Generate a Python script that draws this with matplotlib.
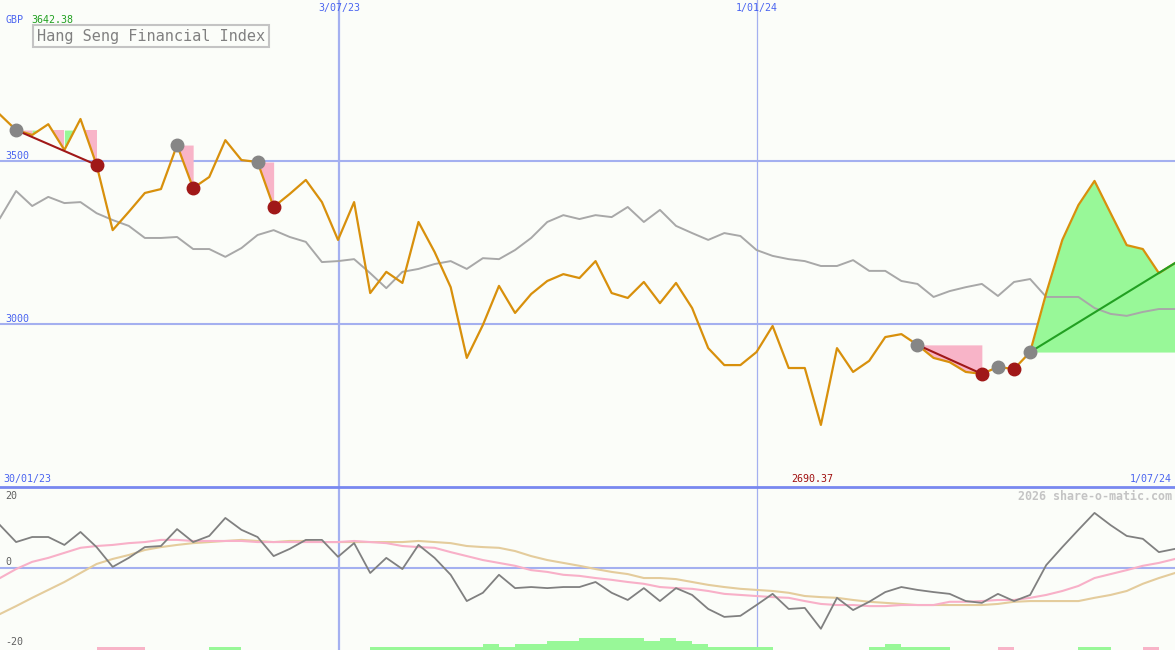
import matplotlib
matplotlib.use("Agg")
import matplotlib.pyplot as plt
import numpy as np

# weekly closes, 30/01/23 .. 1/07/24
price = [3642.38, 3595, 3580, 3613, 3534, 3629, 3488, 3288, 3344, 3402,
         3414, 3549, 3417, 3451, 3564, 3503, 3497, 3359, 3399, 3442,
         3374, 3258, 3374, 3095, 3160, 3126, 3313, 3221, 3113, 2896,
         2997, 3117, 3034, 3092, 3132, 3153, 3141, 3193, 3095, 3080,
         3129, 3064, 3126, 3049, 2926, 2874, 2874, 2914, 2994, 2865,
         2865, 2690.37, 2926, 2853, 2887, 2960, 2969, 2936, 2896, 2883,
         2853, 2847, 2868, 2862, 2914, 3095, 3258, 3365, 3439, 3340,
         3242, 3230, 3156, 3187]

# comparison index (rebased)
compare = [3325, 3408, 3362, 3390, 3371, 3374, 3340, 3319, 3301, 3264,
           3264, 3267, 3230, 3230, 3206, 3233, 3273, 3288, 3267, 3252,
           3190, 3193, 3199, 3156, 3110, 3160, 3169, 3184, 3193, 3169,
           3202, 3199, 3227, 3264, 3313, 3334, 3322, 3334, 3328, 3359,
           3313, 3350, 3301, 3279, 3258, 3279, 3270, 3227, 3209, 3199,
           3193, 3178, 3178, 3196, 3163, 3163, 3132, 3123, 3083, 3101,
           3113, 3123, 3086, 3129, 3138, 3083, 3083, 3083, 3049, 3031,
           3025, 3037, 3046, 3046]

# lower panel
osc = [11.9, 7.2, 8.6, 8.6, 6.4, 10.0, 5.8, 0.3, 2.8, 5.8,
       6.1, 10.8, 7.2, 8.9, 13.9, 10.6, 8.6, 3.3, 5.3, 7.8,
       7.8, 3.1, 6.9, -1.4, 2.8, -0.3, 6.4, 2.8, -1.9, -9.2,
       -6.9, -1.9, -5.6, -5.3, -5.6, -5.3, -5.3, -3.9, -6.9, -8.9,
       -5.6, -9.2, -5.6, -7.5, -11.4, -13.6, -13.3, -10.3, -7.2, -11.4,
       -11.1, -16.9, -8.3, -11.7, -9.4, -6.7, -5.3, -6.1, -6.7, -7.2,
       -9.2, -9.7, -7.2, -9.2, -7.5, 0.8, 5.8, 10.6, 15.3, 11.9,
       8.9, 8.1, 4.4, 5.3]
osc_fast = [-2.8, -0.3, 1.7, 2.8, 4.2, 5.6, 6.1, 6.4, 6.9, 7.2,
            7.8, 7.8, 7.5, 7.5, 7.5, 7.5, 7.2, 7.2, 7.2, 7.2,
            7.2, 7.2, 7.5, 7.2, 6.9, 6.1, 5.8, 5.6, 4.4, 3.3,
            2.2, 1.4, 0.6, -0.6, -1.1, -1.9, -2.2, -2.8, -3.3, -3.9,
            -4.4, -5.3, -5.6, -5.8, -6.4, -7.2, -7.5, -7.8, -8.1, -8.3,
            -9.2, -10.0, -10.3, -10.3, -10.6, -10.6, -10.3, -10.3, -10.3, -9.4,
            -9.4, -9.2, -8.9, -8.9, -8.3, -7.5, -6.4, -5.0, -2.8, -1.7,
            -0.6, 0.6, 1.4, 2.5]
osc_slow = [-12.8, -10.6, -8.3, -6.1, -3.9, -1.4, 1.1, 2.5, 3.6, 5.0,
            5.8, 6.4, 6.9, 7.2, 7.5, 7.8, 7.5, 7.2, 7.5, 7.5,
            7.2, 7.2, 7.2, 7.2, 7.2, 7.2, 7.5, 7.2, 6.9, 6.1,
            5.8, 5.6, 4.7, 3.3, 2.2, 1.4, 0.6, -0.3, -1.1, -1.7,
            -2.8, -2.8, -3.1, -3.9, -4.7, -5.3, -5.8, -6.1, -6.4, -6.9,
            -7.8, -8.1, -8.3, -8.9, -9.4, -9.7, -10.0, -10.3, -10.3, -10.3,
            -10.3, -10.3, -10.0, -9.4, -9.2, -9.2, -9.2, -9.2, -8.3, -7.5,
            -6.4, -4.4, -2.8, -1.4]
# signal bars: + green, - pink
hist = [0, 0, 0, 0, 0, 0, -1, -1, -1, 0,
        0, 0, 0, 1, 1, 0, 0, 0, 0, 0,
        0, 0, 0, 1, 1, 1, 1, 1, 1, 1,
        2, 1, 2, 2, 3, 3, 4, 4, 4, 4,
        3, 4, 3, 2, 1, 1, 1, 1, 0, 0,
        0, 0, 0, 0, 1, 2, 1, 1, 1, 0,
        0, 0, -1, 0, 0, 0, 0, 1, 1, 0,
        0, -1, 0, 0]

# (start, end, type) signal events
events = [(1, 6, "down"), (11, 12, "down"), (16, 17, "down"),
          (57, 61, "down"), (62, 63, "down"), (64, 73, "up")]
trend_red = [(1, 6), (57, 61)]
trend_green = (64, 73, 2914, 3187)

vlines = [21.06, 47.0]
vlabels = ["3/07/23", "1/01/24"]

BG = "#fbfdf9"
GRID = "#a4b0f0"
BLUE = "#4a64f0"
ORANGE = "#d8900c"
PINK = "#f8b4c8"
GREEN = "#98f898"
DRED = "#a01818"

W, H = 1175, 650
fig = plt.figure(figsize=(W / 100, H / 100), dpi=100, facecolor=BG)
ax = fig.add_axes([0, 163 / H, 1, 487 / H])
ax2 = fig.add_axes([0, 0, 1, 163 / H])
for a in (ax, ax2):
    a.set_facecolor(BG)
    a.set_xlim(0, 73)
    a.axis("off")
ax.set_ylim(2500, 3994)
ax2.set_ylim(-22.8, 22.5)

x = np.arange(len(price))
p = np.array(price)

# grid
for lv in (3500, 3000):
    ax.axhline(lv, color=GRID, lw=1.5, zorder=1)
for v in vlines:
    ax.axvline(v, color=GRID, lw=1.6 if v < 30 else 0.9, zorder=1)
    ax2.axvline(v, color=GRID, lw=1.6 if v < 30 else 0.9, zorder=1)
ax2.axhline(0, color=GRID, lw=1.5, zorder=1)

# event fills
for i0, i1, kind in events:
    lvl = price[i0]
    if kind == "up":
        xs = x[i0:i1 + 1]
        ys = p[i0:i1 + 1]
        ax.fill_between(xs, lvl, ys, where=ys >= lvl, interpolate=True,
                        color=GREEN, lw=0, zorder=2)
        continue
    # colour each stretch by the direction of the move
    cols = [GREEN if p[k + 1] > p[k] else PINK for k in range(i0, i1)]
    start = i0
    for k in range(i0, i1):
        last = k == i1 - 1
        if last or cols[k + 1 - i0] != cols[k - i0]:
            xs = x[start:k + 2]
            ys = p[start:k + 2]
            ax.fill_between(xs, lvl, ys, where=ys <= lvl, interpolate=True,
                            color=cols[k - i0], lw=0, zorder=2)
            start = k + 1

ax.plot(x, compare, color="#a8a8a8", lw=1.4, zorder=3)
ax.plot(x, price, color=ORANGE, lw=1.6, zorder=4)

for i0, i1 in trend_red:
    ax.plot([i0, i1], [price[i0], price[i1]], color=DRED, lw=1.5, zorder=5)
g0, g1, gv0, gv1 = trend_green
ax.plot([g0, g1], [gv0, gv1], color="#22a022", lw=1.5, zorder=5)

for i0, i1, kind in events:
    ax.plot(i0, price[i0], "o", ms=9, color="#868686", zorder=6)
    if kind == "down":
        ax.plot(i1, price[i1], "o", ms=9, color=DRED, zorder=6)

# lower panel
hv = np.array(hist)
ax2.bar(x[hv > 0], hv[hv > 0] * 0.85, width=1, align="edge", bottom=-22.8,
        color=GREEN, zorder=2)
ax2.bar(x[hv < 0], -hv[hv < 0] * 0.85, width=1, align="edge", bottom=-22.8,
        color=PINK, zorder=2)
ax2.plot(x, osc_slow, color="#e4cc9c", lw=1.5, zorder=3)
ax2.plot(x, osc_fast, color="#f8b0c8", lw=1.5, zorder=3)
ax2.plot(x, osc, color="#808080", lw=1.3, zorder=4)

# separator
fig.add_artist(plt.Line2D([0, 1], [1 - 487 / H, 1 - 487 / H], color="#7888f0", lw=2))


def ftext(px, py, s, **kw):
    kw.setdefault("family", "DejaVu Sans Mono")
    kw.setdefault("fontsize", 7.2)
    kw.setdefault("va", "center")
    fig.text(px / W, 1 - py / H, s, **kw)


ftext(5, 20, "GBP", color=BLUE)
ftext(31, 20, "3642.38", color="#20a020")
ftext(37, 36, "Hang Seng Financial Index", color="#808080", fontsize=11,
      bbox=dict(boxstyle="square,pad=0.25", fc=BG, ec="#c4c4c4", lw=1.5))
for v, lab in zip(vlines, vlabels):
    ftext(v / 73 * W, 8, lab, color=BLUE, ha="center")
ftext(5, 156, "3500", color=BLUE)
ftext(5, 319, "3000", color=BLUE)
ftext(3, 479, "30/01/23", color=BLUE)
ftext(812, 479, "2690.37", color="#a01010", ha="center")
ftext(1172, 479, "1/07/24", color=BLUE, ha="right")
ftext(1172, 496, "2026 share-o-matic.com", color="#c4c4c4", ha="right",
      fontsize=8.4, weight="bold")
ftext(5, 496, "20", color="#606060")
ftext(5, 562, "0", color="#606060")
ftext(5, 642, "-20", color="#606060")

fig.savefig("out.png", dpi=100, facecolor=BG)
